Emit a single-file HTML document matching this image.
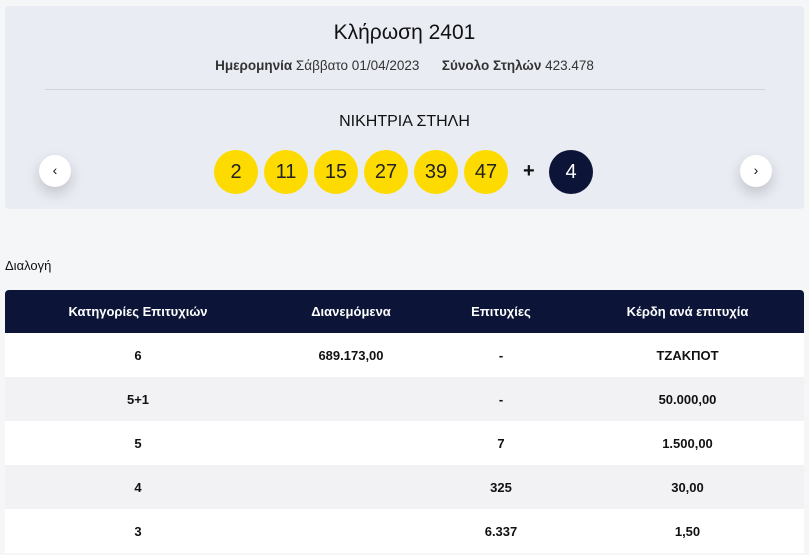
<!DOCTYPE html><html><head><meta charset="utf-8"><style>
body{margin:0;width:809px;height:555px;background:#f5f6f8;font-family:"Liberation Sans",sans-serif;color:#111;position:relative;overflow:hidden}
.card{position:absolute;left:5px;top:6px;width:799px;height:203px;background:#e9ecf3;border-radius:4px}
.t{position:absolute;left:0;width:809px;text-align:center}
.ball{position:absolute;top:150px;width:44px;height:44px;border-radius:50%;background:#fedb00;text-align:center;line-height:44px;font-size:20px;color:#222}
.arr{position:absolute;top:155px;width:32px;height:32px;border-radius:50%;background:#fff;box-shadow:0 6px 14px rgba(0,0,0,.18);text-align:center;line-height:31px;font-size:14px}
table{position:absolute;left:5px;top:290px;width:799px;border-collapse:collapse;table-layout:fixed;font-size:13px;font-weight:bold}
th,td{padding:0}
th{background:#0c1538;color:#fff;height:43px;font-size:13px}
td{height:44px;text-align:center}
tr:nth-child(odd) td{background:#f2f2f4}
tr:nth-child(even) td{background:#fff}
</style></head><body>
<div class="card"></div>
<div class="t" style="top:21px;font-size:21px">Κλήρωση 2401</div>
<div class="t" style="top:58px;font-size:13.5px;color:#333"><b>Ημερομηνία</b> Σάββατο 01/04/2023 &nbsp;&nbsp;&nbsp;&nbsp; <b>Σύνολο Στηλών</b> 423.478</div>
<div style="position:absolute;left:45px;top:89px;width:720px;height:1px;background:#cfd3dc"></div>
<div class="t" style="top:113px;font-size:16px">ΝΙΚΗΤΡΙΑ ΣΤΗΛΗ</div>
<div class="arr" style="left:39px">‹</div><div class="arr" style="left:740px">›</div>
<div class="ball" style="left:214px">2</div><div class="ball" style="left:264px">11</div><div class="ball" style="left:314px">15</div><div class="ball" style="left:364px">27</div><div class="ball" style="left:414px">39</div><div class="ball" style="left:464px">47</div>
<div style="position:absolute;left:523px;top:160px;font-size:20px;font-weight:bold">+</div>
<div class="ball" style="left:549px;background:#0c1538;color:#fff">4</div>
<div style="position:absolute;left:5px;top:258px;font-size:13px">Διαλογή</div>
<table><colgroup><col style="width:266px"><col style="width:160px"><col style="width:140px"><col style="width:233px"></colgroup>
<tr><th style="border-radius:4px 0 0 0">Κατηγορίες Επιτυχιών</th><th>Διανεμόμενα</th><th>Επιτυχίες</th><th style="border-radius:0 4px 0 0">Κέρδη ανά επιτυχία</th></tr>
<tr><td>6</td><td>689.173,00</td><td>-</td><td>ΤΖΑΚΠΟΤ</td></tr>
<tr><td>5+1</td><td></td><td>-</td><td>50.000,00</td></tr>
<tr><td>5</td><td></td><td>7</td><td>1.500,00</td></tr>
<tr><td>4</td><td></td><td>325</td><td>30,00</td></tr>
<tr><td>3</td><td></td><td>6.337</td><td>1,50</td></tr>
</table>
</body></html>
